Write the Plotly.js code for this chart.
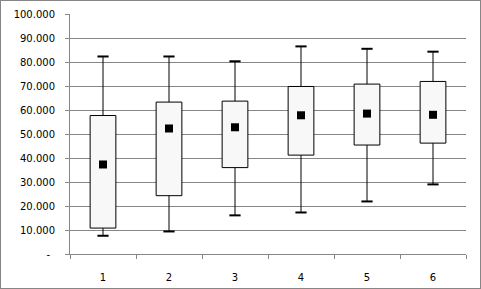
<!DOCTYPE html>
<html>
<head>
<meta charset="utf-8">
<script src="https://cdn.plot.ly/plotly-3.0.1.min.js"></script>
<style>
html,body{margin:0;padding:0;background:#fff;}
#chart{width:479px;height:287px;border:1px solid #868686;}
</style>
</head>
<body>
<div id="chart"></div>
<script>
// Data
var categories = ['1','2','3','4','5','6'];
var whiskerLow = [7600, 9400, 16100, 17300, 21900, 29000];
var q1 = [10800, 24300, 36000, 41200, 45400, 46200];
var q3 = [57700, 63300, 63700, 69800, 70800, 71900];
var whiskerHigh = [82300, 82300, 80300, 86500, 85500, 84300];
var means = [37300, 52300, 52800, 57800, 58500, 58000];
var yTickVals = [0,10000,20000,30000,40000,50000,60000,70000,80000,90000,100000];
var yTickText = ['-\u2002','10.000','20.000','30.000','40.000','50.000','60.000','70.000','80.000','90.000','100.000'];

var boxHeight = q3.map(function(v,i){return v - q1[i];});
var upperLen = whiskerHigh.map(function(v,i){return v - q3[i];});
var lowerLen = q1.map(function(v,i){return v - whiskerLow[i];});
var zeros = categories.map(function(){return 0;});

var traces = [
  {type:'bar', x:categories, y:boxHeight, base:q1,
   marker:{color:'#f8f8f8', line:{color:'#000', width:1}}, hoverinfo:'skip'},
  {type:'scatter', mode:'none', x:categories, y:q3,
   error_y:{type:'data', symmetric:false, array:upperLen, arrayminus:zeros, width:0, thickness:1, color:'#000'}},
  {type:'scatter', mode:'none', x:categories, y:q1,
   error_y:{type:'data', symmetric:false, array:zeros, arrayminus:lowerLen, width:0, thickness:1, color:'#000'}},
  {type:'scatter', mode:'markers', x:categories, y:whiskerHigh,
   marker:{symbol:'line-ew-open', size:8, color:'#000', line:{color:'#000', width:2}}},
  {type:'scatter', mode:'markers', x:categories, y:whiskerLow,
   marker:{symbol:'line-ew-open', size:8, color:'#000', line:{color:'#000', width:2}}},
  {type:'scatter', mode:'markers', x:categories, y:means,
   marker:{symbol:'square', size:8, color:'#000', line:{width:0}}}
];

var layout = {
  width:479, height:287,
  margin:{l:69, r:14, t:13, b:34, pad:0},
  paper_bgcolor:'#fff', plot_bgcolor:'#fff',
  showlegend:false,
  bargap:0.61,
  font:{family:'DejaVu Sans, Verdana, sans-serif', size:10, color:'#000'},
  xaxis:{type:'category', tickson:'boundaries', ticks:'outside', ticklen:4, tickcolor:'#868686',
         showline:true, linecolor:'#868686', linewidth:1, showgrid:false, zeroline:false,
         ticklabelposition:'outside', ticklabelstandoff:14, tickfont:{size:10, color:'#000'}},
  yaxis:{range:[0,100000], tickvals:yTickVals, ticktext:yTickText, ticks:'outside', ticklen:4,
         tickcolor:'#868686', showline:true, linecolor:'#868686', linewidth:1,
         showgrid:true, gridcolor:'#868686', gridwidth:1, zeroline:false,
         ticklabelstandoff:8, tickfont:{size:10, color:'#000'}}
};

Plotly.newPlot('chart', traces, layout, {staticPlot:true, displayModeBar:false});
</script>
</body>
</html>
